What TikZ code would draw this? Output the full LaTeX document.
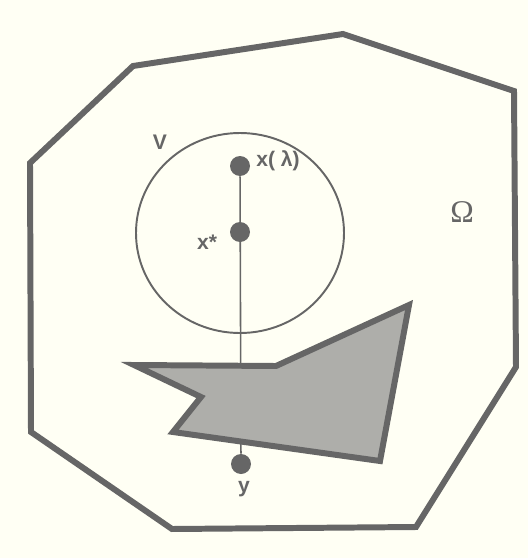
\documentclass[tikz,border=0pt]{standalone}
\usepackage{fontspec}
\setsansfont{Liberation Sans}
\newfontfamily\omegafont{Liberation Serif}
\definecolor{ink}{HTML}{666666}
\definecolor{paper}{HTML}{FFFFF4}
\definecolor{shade}{HTML}{AEAEAA}

\begin{document}
\begin{tikzpicture}[x=0.02cm, y=-0.02cm, line join=miter,
  every node/.style={inner sep=0pt, text=ink},
  dot/.style={circle, fill=ink, minimum size=0.4cm},
  lbl/.style={font=\sffamily\bfseries\fontsize{12}{14}\selectfont},
  border/.style={draw=ink, line width=3.4pt}]
  \fill[paper] (0,0) rectangle (528,558);
  \useasboundingbox (0,0) rectangle (528,558);
  % the region Omega
  \draw[border] (133,66) -- (343,34) -- (514,91) -- (516,367) -- (416,527)
    -- (172,529) -- (31,432) -- (30,163) -- cycle;
  \node (omega) at (462,212) {\omegafont\fontsize{18}{20}\selectfont Ω};
  % neighbourhood V
  \draw[ink, line width=1.1pt] (240,233) ellipse [x radius=104, y radius=100];
  \node[lbl] (v) at (160,142) {V};
  % points on the segment
  \node[dot] (xl) at (240,166) {};
  \node[dot] (xs) at (240,232) {};
  \node[dot] (y) at (241,464) {};
  \draw[ink, line width=0.9pt] (xl) -- (y);
  \node[lbl, anchor=west] (xllbl) at (256,161) {x( λ)};
  \node[lbl] (xslbl) at (207,242) {x*};
  \node[lbl] (ylbl) at (244,489) {y};
  % the obstacle
  \draw[border, fill=shade] (134,365) -- (276,366) -- (409,305) -- (380,461)
    -- (173,432) -- (201,397) -- cycle;
\end{tikzpicture}
\end{document}
